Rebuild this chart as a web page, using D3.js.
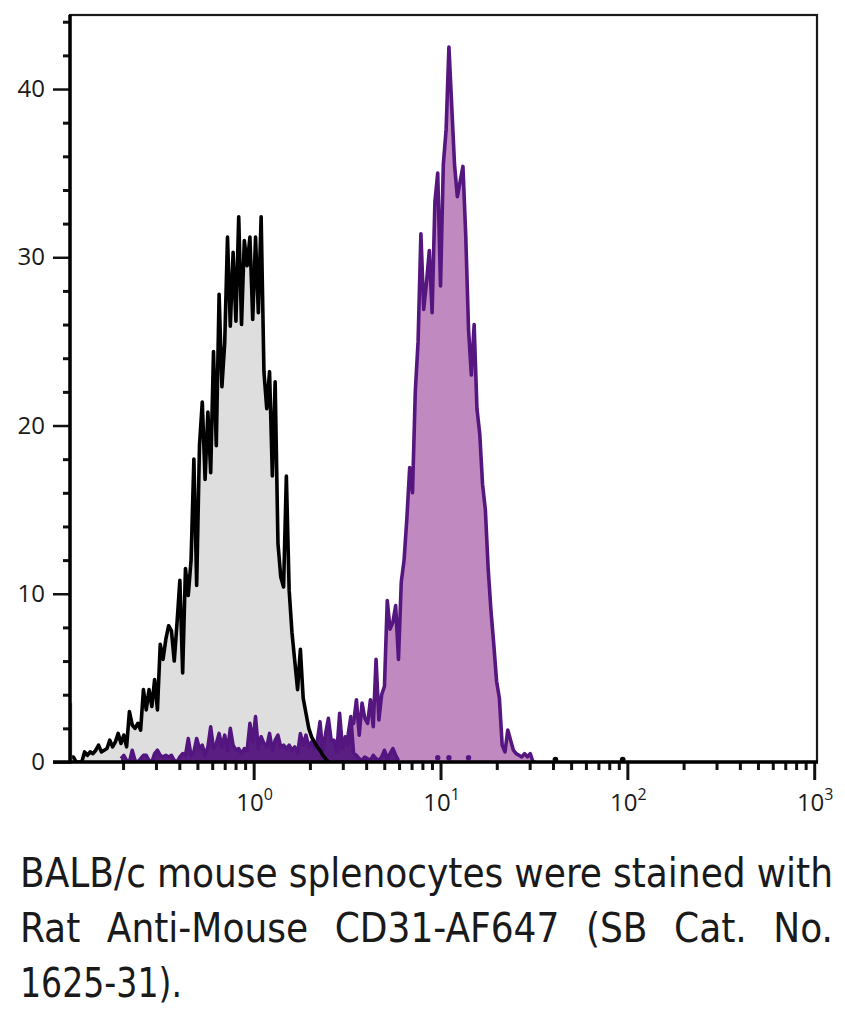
<!DOCTYPE html>
<html>
<head>
<meta charset="utf-8">
<script src="https://cdn.jsdelivr.net/npm/d3@7"></script>
<style>
  body { margin: 0; background: #fff; }
  svg text { font-family: "Open Sans", "Noto Sans", sans-serif; fill: #1a1a1a; }
</style>
</head>
<body>
<svg id="chart" width="845" height="1012"></svg>
<script>
// histogram bins: log10 channel, regular step
const binLogStart = -0.98;
const binLogStep = 0.015;

// unstained / control (black line, grey fill), bins 0..92
const controlStart = 0;
const controlCounts = [
  0.3, 0.3, 0, 0, 0, 0.6, 0.4, 0.6, 0.5, 0.7,
  1.0, 0.6, 0.7, 0.8, 1.3, 0.9, 1.2, 1.7, 1.1, 1.6,
  0.9, 3.0, 2.2, 2.0, 2.3, 1.9, 4.3, 3.1, 4.3, 3.3,
  4.9, 3.1, 7.0, 6.1, 7.3, 8.1, 7.8, 6.0, 8.3, 10.8,
  5.3, 11.5, 9.9, 12.0, 18.0, 10.5, 18.8, 21.4, 16.8, 20.8,
  17.2, 24.4, 18.8, 27.8, 22.3, 24.9, 31.2, 25.9, 30.3, 26.2,
  32.4, 26.0, 31.0, 29.5, 31.2, 26.3, 31.2, 26.7, 32.4, 23.2,
  21.0, 23.2, 17.0, 22.6, 13.0, 11.0, 10.4, 17.0, 10.2, 7.7,
  6.0, 4.3, 6.7, 3.8, 2.9, 2.0, 1.5, 1.2, 0.9, 0.7,
  0.4, 0.2, 0
];

// CD31 stained (light purple fill), bins 95..166
const stainedStart = 95;
const stainedCounts = [
  0.5, 1.2, 0.8, 1.5, 1.0, 2.2, 2.3, 3.7, 1.6, 3.5,
  2.6, 2.3, 3.7, 2.1, 6.1, 2.5, 4.0, 4.5, 9.6, 7.9,
  8.3, 9.3, 6.1, 10.7, 12.0, 14.5, 17.5, 16.0, 22.0, 25.0,
  31.4, 26.9, 28.5, 30.4, 26.7, 33.3, 35.0, 28.3, 35.5, 37.6,
  42.5, 39.0, 35.5, 33.6, 34.5, 35.4, 31.3, 25.7, 23.0, 26.0,
  21.0, 19.5, 16.5, 15.0, 11.5, 9.0, 7.0, 4.8, 3.8, 1.0,
  0.6, 1.9, 1.3, 0.7, 0.5, 0.4, 0.3, 0.5, 0.3, 0.5,
  0, 0
];

// low dark-purple population near baseline, bins 18..117
const lowStart = 18;
const lowCounts = [
  0.2, 0.4, 0.1, 0, 0.7, 0.1, 0, 0.2, 0.4, 0.4,
  0.1, 0, 0.5, 0.7, 0.4, 0.3, 0.4, 0.3, 0.4, 0.1,
  0, 0.3, 0.5, 0.4, 1.4, 0.4, 0.6, 1.4, 0.8, 1.0,
  0.4, 0.9, 2.1, 0.8, 1.1, 1.7, 0.9, 1.6, 0.7, 2.0,
  1.0, 0.7, 0.8, 0.5, 0.8, 0.7, 2.3, 1.2, 2.7, 0.8,
  1.5, 1.1, 0.9, 1.7, 0.7, 1.3, 1.6, 0.9, 1.0, 0.8,
  1.0, 0.7, 0.9, 0.5, 1.7, 1.0, 1.6, 0.9, 1.2, 0.8,
  1.2, 2.4, 0.6, 1.7, 2.6, 1.3, 1.3, 0.6, 2.9, 0.9,
  1.2, 1.6, 2.7, 0.5, 0.4, 0.2, 0.1, 0.3, 0.2, 0.1,
  0.4, 0.2, 0.1, 0.3, 0.7, 0.2, 0.5, 0.8, 0.4, 0.1
];

// single events
const strayControlBins = [173, 197];
const strayControlCounts = [0.15, 0.15];
const strayLowBins = [131, 135, 142];
const strayLowCounts = [0.25, 0.25, 0.25];
const edgeCount = 3.5;

const yMajor = [0, 10, 20, 30, 40];
const xMajor = [1, 10, 100, 1000];
const xExponents = ["0", "1", "2", "3"];

const captionLines = [
  "BALB/c mouse splenocytes were stained with",
  "Rat Anti-Mouse CD31-AF647 (SB Cat. No.",
  "1625-31)."
];

const svgWidth = 845, svgHeight = 1012;
const margin = { top: 15, right: 28, bottom: 250, left: 70 };
const width = svgWidth - margin.left - margin.right;
const height = svgHeight - margin.top - margin.bottom;

const svg = d3.select("#chart");
const chartGroup = svg.append("g")
  .attr("transform", `translate(${margin.left}, ${margin.top})`);

const x = d3.scaleLog().domain([0.104, 1035]).range([0, width]);
const y = d3.scaleLinear().domain([0, 44.4]).range([height, 0]);

const binValue = i => Math.pow(10, binLogStart + i * binLogStep);
const toPoints = (start, counts) => counts.map((c, k) => ({ v: binValue(start + k), c: c }));

const control = toPoints(controlStart, controlCounts);
const stained = toPoints(stainedStart, stainedCounts);
const low = toPoints(lowStart, lowCounts);

svg.append("defs").append("clipPath").attr("id", "plotClip")
  .append("rect").attr("x", 0).attr("y", -3).attr("width", width).attr("height", height + 3);

const area = d3.area().x(d => x(d.v)).y0(height).y1(d => y(d.c));
const line = d3.line().x(d => x(d.v)).y(d => y(d.c));

const plot = chartGroup.append("g").attr("clip-path", "url(#plotClip)");

plot.append("path").datum(control).attr("d", area).attr("fill", "#dedede");
plot.append("path").datum(stained).attr("d", area).attr("fill", "#c08ac0");
plot.append("path").datum(low).attr("d", area).attr("fill", "#5a1d82");
plot.append("path").datum(low).attr("d", line)
  .attr("fill", "none").attr("stroke", "#53157f").attr("stroke-width", 3.5).attr("stroke-linejoin", "round");
plot.append("path").datum(control).attr("d", line)
  .attr("fill", "none").attr("stroke", "#000").attr("stroke-width", 3.6).attr("stroke-linejoin", "round");
plot.append("path").datum(stained).attr("d", line)
  .attr("fill", "none").attr("stroke", "#561680").attr("stroke-width", 3.6).attr("stroke-linejoin", "round");

plot.selectAll(".stray-low")
  .data(strayLowBins)
  .enter()
  .append("circle")
  .attr("cx", d => x(binValue(d)))
  .attr("cy", (d, i) => y(strayLowCounts[i]))
  .attr("r", 2.7)
  .attr("fill", "#53157f");

plot.selectAll(".stray-control")
  .data(strayControlBins)
  .enter()
  .append("circle")
  .attr("cx", d => x(binValue(d)))
  .attr("cy", (d, i) => y(strayControlCounts[i]))
  .attr("r", 2.8)
  .attr("fill", "#000");

plot.append("line")
  .attr("x1", x(binValue(0)) + 1).attr("x2", x(binValue(0)) + 1)
  .attr("y1", y(edgeCount)).attr("y2", height)
  .attr("stroke", "#777").attr("stroke-width", 1.2);

// frame
chartGroup.append("rect")
  .attr("width", width).attr("height", height)
  .attr("fill", "none").attr("stroke", "#1a1a1a").attr("stroke-width", 2.2);

// y axis
const yMinor = d3.range(2, 45, 2).filter(v => v % 10 !== 0);
const yMinorAxis = chartGroup.append("g")
  .call(d3.axisLeft(y).tickValues(yMinor).tickSize(7).tickSizeOuter(0).tickFormat(""));
const yMajorAxis = chartGroup.append("g")
  .call(d3.axisLeft(y).tickValues(yMajor).tickSize(17).tickSizeOuter(0).tickPadding(8));
yMinorAxis.selectAll(".tick line").attr("stroke", "#111").attr("stroke-width", 3);
yMajorAxis.selectAll(".tick line").attr("stroke", "#111").attr("stroke-width", 2.5);
yMajorAxis.selectAll(".tick text").attr("font-size", 24).attr("fill", "#1a1a1a")
  .style("font-family", "'Open Sans', 'Noto Sans', sans-serif");
yMinorAxis.select(".domain").remove();
yMajorAxis.select(".domain").remove();

// x axis
const xMinor = [];
[-1, 0, 1, 2].forEach(e => {
  for (let k = 2; k <= 9; k++) {
    const v = k * Math.pow(10, e);
    if (v >= 0.104 && v <= 1035) xMinor.push(v);
  }
});
const xMinorAxis = chartGroup.append("g")
  .attr("transform", `translate(0, ${height})`)
  .call(d3.axisBottom(x).tickValues(xMinor).tickSize(8).tickSizeOuter(0).tickFormat(""));
const xMajorAxis = chartGroup.append("g")
  .attr("transform", `translate(0, ${height})`)
  .call(d3.axisBottom(x).tickValues(xMajor).tickSize(18).tickSizeOuter(0).tickFormat(""));
xMinorAxis.selectAll(".tick line").attr("stroke", "#111").attr("stroke-width", 3);
xMajorAxis.selectAll(".tick line").attr("stroke", "#111").attr("stroke-width", 3);
xMinorAxis.select(".domain").remove();
xMajorAxis.select(".domain").remove();

// heavy axis lines
chartGroup.append("line")
  .attr("x1", 0).attr("x2", 0).attr("y1", 0).attr("y2", height + 1.5)
  .attr("stroke", "#000").attr("stroke-width", 3.5);
chartGroup.append("line")
  .attr("x1", -17).attr("x2", width + 1).attr("y1", height).attr("y2", height)
  .attr("stroke", "#000").attr("stroke-width", 3.5);

chartGroup.selectAll(".xlab")
  .data(xMajor)
  .enter()
  .append("text")
  .attr("x", d => x(d) + 1)
  .attr("y", height + 49)
  .attr("text-anchor", "middle")
  .attr("font-size", 24)
  .each(function(d, i) {
    const t = d3.select(this);
    t.append("tspan").text("10");
    t.append("tspan").attr("dy", -11).attr("font-size", 16).text(xExponents[i]);
  });

// caption, justified
const capLeft = 20, capRight = 833, capBase = 887, capLead = 55;
const capG = svg.append("g")
  .attr("font-size", 40)
  .style("font-family", "'Liberation Sans Narrow', 'DejaVu Sans Condensed', 'Open Sans', sans-serif");

captionLines.forEach((text, li) => {
  const words = text.split(" ");
  const yb = capBase + li * capLead;
  const nodes = words.map(w => capG.append("text").attr("y", yb).style("font-family", "inherit").text(w));
  const widths = nodes.map(n => n.node().getComputedTextLength());
  const total = d3.sum(widths);
  const last = li === captionLines.length - 1;
  let space = 11, scale = 1;
  if (!last) {
    space = (capRight - capLeft - total) / (words.length - 1);
    if (space < 8) {
      scale = (capRight - capLeft - 8 * (words.length - 1)) / total;
      space = 8;
    }
  } else {
    scale = 162 / (total + space * (words.length - 1));
    space *= scale;
  }
  let cx = capLeft;
  nodes.forEach((n, k) => {
    n.attr("x", cx);
    if (scale !== 1) n.attr("textLength", widths[k] * scale).attr("lengthAdjust", "spacingAndGlyphs");
    cx += widths[k] * scale + space;
  });
});
</script>
</body>
</html>
